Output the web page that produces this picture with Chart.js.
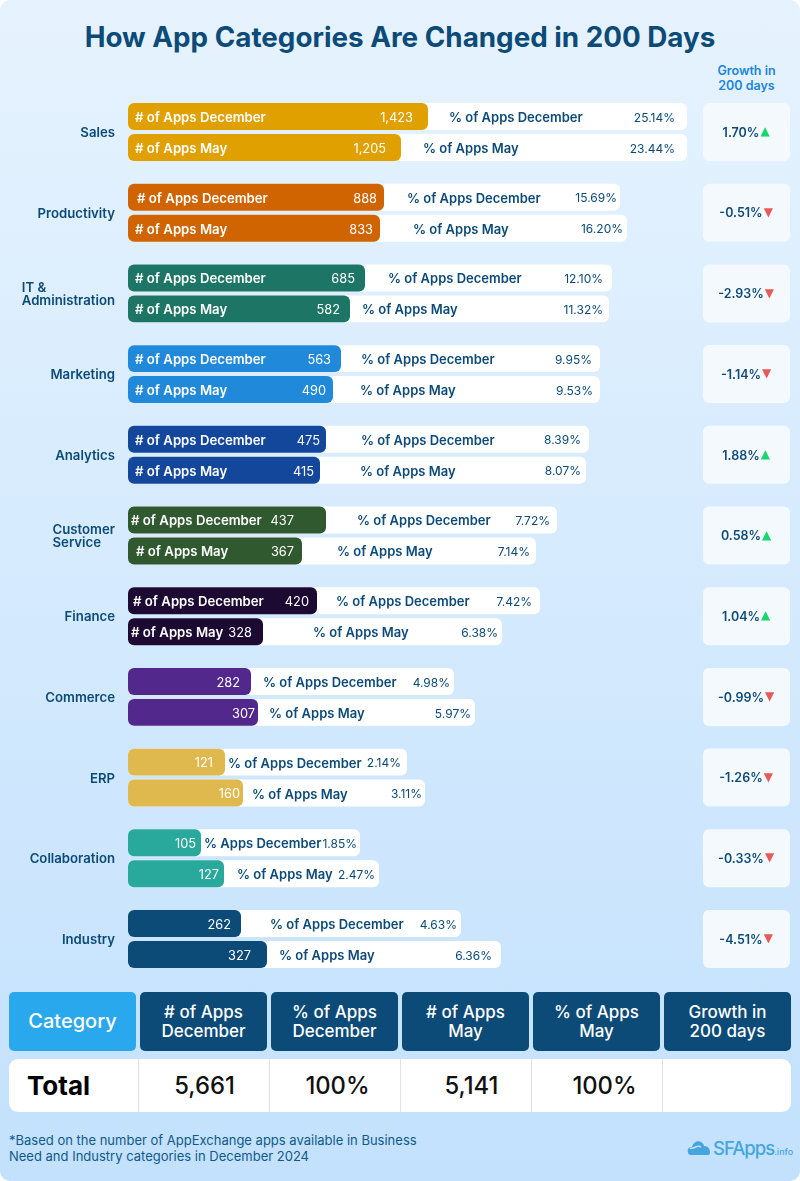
<!DOCTYPE html>
<html>
<head>
<meta charset="utf-8">
<script src="https://cdn.jsdelivr.net/npm/chart.js@4"></script>
<style>
html, body { margin: 0; padding: 0; background: #fff; }
#page { position: relative; width: 800px; height: 1181px; overflow: hidden; border-radius: 10px;
    background: linear-gradient(180deg, #e6f3fe 0%, #c3e1fd 100%); font-family: Inter, sans-serif; color: #0c4a78; }
#page div { position: absolute; box-sizing: border-box; }
#title { left: 0; width: 800px; top: 19px; text-align: center; font-size: 27.8px; font-weight: 700; line-height: 36px; }
#growthhead { left: 703px; width: 87px; top: 63px; text-align: center; font-size: 12.5px; font-weight: 600; line-height: 15px; color: #1a85dc; }
canvas { position: absolute; left: 0; top: 0; }
.head { display: flex; align-items: center; justify-content: center; text-align: center; top: 992px; height: 59px; width: 127px;
    background: #0c4a78; color: #fff; border-radius: 5px; font-size: 17px; font-weight: 500; line-height: 19px; }
#totalrow { left: 9px; top: 1059px; width: 782px; height: 53px; background: #fff; border-radius: 9px; }
.cell { display: flex; align-items: center; justify-content: center; top: 1059px; height: 53px; width: 131px; color: #111; font-size: 23.8px; font-weight: 500; }
.sep { top: 1059px; width: 1px; height: 53px; background: #dfe3e6; }
#note { left: 9px; top: 1132px; font-size: 13px; line-height: 16px; color: #0f5a8a; white-space: nowrap; }
#logo { left: 713px; top: 1137px; font-size: 18.5px; font-weight: 500; color: #45a6de; letter-spacing: -1px; white-space: nowrap; }
#logo span { font-size: 9px; letter-spacing: 0; }
#cloud { left: 687px; top: 1136px; width: 24px; height: 20px; }
</style>
</head>
<body>
<div id="page">
    <div id="title">How App Categories Are Changed in 200 Days</div>
    <div id="growthhead">Growth in<br>200 days</div>
    <canvas id="chart" width="800" height="985"></canvas>
    <div id="note">*Based on the number of AppExchange apps available in Business<br>Need and Industry categories in December 2024</div>
    <div id="cloud"><svg width="24" height="20" viewBox="0 0 24 20"><path d="M1 16c-1-3 1-5 4-5 1-4 5-7 9-5 2 1 3 3 3 4 4 0 6 3 6 6 0 1 0 3-2 3H4c-2 0-3-1-3-3z" fill="#45a6de"/><path d="M3 12c4 2 7-4 11-1" stroke="#c3e1fd" stroke-width="1.5" fill="none"/></svg></div>
    <div id="logo">SFApps<span>.info</span></div>
</div>
<script>
const categories = ['Sales', 'Productivity', ['IT &', 'Administration'], 'Marketing', 'Analytics', ['Customer', 'Service'], 'Finance', 'Commerce', 'ERP', 'Collaboration', 'Industry'];
const appsDecember = [1423, 888, 685, 563, 475, 437, 420, 282, 121, 105, 262];
const appsMay = [1205, 833, 582, 490, 415, 367, 328, 307, 160, 127, 327];
const pctDecember = [25.14, 15.69, 12.10, 9.95, 8.39, 7.72, 7.42, 4.98, 2.14, 1.85, 4.63];
const pctMay = [23.44, 16.20, 11.32, 9.53, 8.07, 7.14, 6.38, 5.97, 3.11, 2.47, 6.36];
const growth = [1.70, -0.51, -2.93, -1.14, 1.88, 0.58, 1.04, -0.99, -1.26, -0.33, -4.51];
const barColors = ['#dfa000', '#cf6400', '#1c7565', '#2189d9', '#12479c', '#30592f', '#1c0a33', '#52288c', '#e0b94e', '#28a99c', '#0c4a78'];

const tableHeads = ['Category', '# of Apps<br>December', '% of Apps<br>December', '# of Apps<br>May', '% of Apps<br>May', 'Growth in<br>200 days'];
const tableTotals = ['Total', '5,661', '100%', '5,141', '100%', ''];
const totalNudge = [0, 1, 3, 6, 8, 0];

// the source bars are not proportional, so both axes are stretched by these tables: [value, px from axis start]
const countKnots = [[0, 0], [105, 73], [121, 97], [127, 96], [160, 115], [262, 113], [282, 123], [307, 130], [327, 139], [328, 135],
    [367, 174], [415, 192], [420, 189], [437, 198], [475, 198], [490, 205], [563, 213], [582, 222], [685, 237], [833, 252], [888, 256], [1205, 273], [1423, 300]];
const pctKnots = [[0, 0], [1.85, 232], [2.14, 279], [2.47, 251], [3.11, 297], [4.63, 333], [4.98, 326], [5.97, 347], [6.36, 373], [6.38, 374],
    [7.14, 408], [7.42, 412], [7.72, 429], [8.07, 458], [8.39, 461], [9.53, 472], [9.95, 472], [11.32, 481], [12.10, 484], [15.69, 492], [16.20, 499], [23.44, 559], [25.14, 559]];

// text nudges per row, december then may
const nameInset = [[7, 7], [9, 7], [7, 7], [7, 7], [7, 7], [3, 8], [5, 3]];
const countPad = [[15, 15], [7, 7], [10, 10], [10, 7], [6, 6], [32, 8], [8, 11], [11, 3], [12, 3], [5, 5], [10, 16]];
const pctLabelGap = [[21, 22], [23, 33], [23, 12], [20, 27], [35, 40], [31, 35], [19, 50], [12, 11], [3, 9], [3, 13], [29, 12]];
const pctPad = [[12, 12], [3, 4], [9, 6], [8, 7], [8, 5], [7, 6], [8, 4], [4, 4], [6, 3], [3, 4], [4, 9]];

const NAVY = '#0c4a78';
const FONT = 'Inter, sans-serif';

const LinearScale = Chart.registry.getScale('linear');
class KnotScale extends LinearScale {
    getPixelForValue(value) {
        const knots = this.options.knots;
        for (let i = 1; i < knots.length; i++) {
            if (value <= knots[i][0]) {
                const a = knots[i - 1], b = knots[i];
                return this.left + a[1] + (value - a[0]) / (b[0] - a[0]) * (b[1] - a[1]);
            }
        }
        return this.left + knots[knots.length - 1][1];
    }
}
KnotScale.id = 'knot';
KnotScale.defaults = LinearScale.defaults;
Chart.register(KnotScale);

function barset(label, values, stack, axis, colors) {
    return {
        label: label, data: values, stack: stack, xAxisID: axis, backgroundColor: colors,
        borderRadius: 6, borderSkipped: false, inflateAmount: 0
    };
}

function pctLabel(i, month) {
    // the source drops the "of" on this one so it fits
    if (categories[i] == 'Collaboration' && month == 'December') return '% Apps December';
    return '% of Apps ' + month;
}

const labelsPlugin = {
    id: 'rowlabels',
    afterDatasetsDraw(chart) {
        const ctx = chart.ctx;
        const yscale = chart.scales.y;
        ctx.save();
        ctx.textBaseline = 'middle';
        categories.forEach((cat, i) => {
            // category name, left aligned block that ends at the axis
            const y = yscale.getPixelForValue(i);
            const lines = [].concat(cat);
            ctx.font = '600 13.2px ' + FONT;
            ctx.fillStyle = NAVY;
            ctx.textAlign = 'left';
            const w = Math.max(...lines.map(l => ctx.measureText(l).width));
            lines.forEach((l, n) => ctx.fillText(l, 115 - w, y + 1 + (n - (lines.length - 1) / 2) * 13.5));

            // two bars of the row
            [['December', appsDecember, pctDecember, 0, 1], ['May', appsMay, pctMay, 2, 3]].forEach((row, r) => {
                const count = row[1][i], pct = row[2][i];
                const cbar = chart.getDatasetMeta(row[3]).data[i];
                const pbar = chart.getDatasetMeta(row[4]).data[i];
                const ty = cbar.y + 1.5;
                if (count >= 328) {
                    ctx.font = '600 13.2px ' + FONT;
                    ctx.fillStyle = '#fff';
                    ctx.textAlign = 'left';
                    ctx.fillText('# of Apps ' + row[0], cbar.base + nameInset[i][r], ty);
                }
                ctx.font = '400 12.8px ' + FONT;
                ctx.fillStyle = '#fff';
                ctx.textAlign = 'right';
                ctx.fillText(count.toLocaleString('en-US'), cbar.x - countPad[i][r], ty);

                ctx.font = '600 13px ' + FONT;
                ctx.fillStyle = NAVY;
                ctx.textAlign = 'left';
                ctx.fillText(pctLabel(i, row[0]), cbar.x + pctLabelGap[i][r], ty);
                ctx.font = '400 12px ' + FONT;
                ctx.textAlign = 'right';
                ctx.fillText(pct.toFixed(2) + '%', pbar.x - pctPad[i][r], ty);
            });

            // growth card
            ctx.fillStyle = '#f4f9fe';
            ctx.beginPath();
            ctx.roundRect(703, y - 29, 87, 58, 6);
            ctx.fill();
            const gtext = growth[i].toFixed(2) + '%';
            ctx.font = '600 12.5px ' + FONT;
            const gw = ctx.measureText(gtext).width;
            ctx.fillStyle = NAVY;
            ctx.textAlign = 'left';
            ctx.fillText(gtext, 741 - gw / 2, y + 1);
            ctx.font = '12px "DejaVu Sans"';
            ctx.fillStyle = growth[i] < 0 ? '#e85a5a' : '#16d86c';
            ctx.fillText(growth[i] < 0 ? '▼' : '▲', 741 + gw / 2 + 1, y);
        });
        ctx.restore();
    }
};

new Chart(document.getElementById('chart'), {
    type: 'bar',
    data: {
        labels: categories,
        datasets: [
            barset('# of Apps December', appsDecember, 'dec', 'xcount', barColors),
            barset('% of Apps December', pctDecember, 'dec', 'xpct', '#fff'),
            barset('# of Apps May', appsMay, 'may', 'xcount', barColors),
            barset('% of Apps May', pctMay, 'may', 'xpct', '#fff')
        ]
    },
    options: {
        indexAxis: 'y',
        responsive: false,
        animation: false,
        devicePixelRatio: 1,
        categoryPercentage: 0.768,
        barPercentage: 0.87,
        layout: { padding: { left: 128, right: 100, top: 91.65, bottom: 5.65 } },
        scales: {
            y: { stacked: true, display: false },
            xcount: { type: 'knot', axis: 'x', stacked: false, display: false, min: 0, max: 1423, knots: countKnots },
            xpct: { type: 'knot', axis: 'x', stacked: false, display: false, min: 0, max: 25.14, knots: pctKnots }
        },
        plugins: { legend: { display: false }, tooltip: { enabled: false } }
    },
    plugins: [labelsPlugin]
});

// summary table under the chart
const page = document.getElementById('page');
const totalrow = document.createElement('div');
totalrow.id = 'totalrow';
page.appendChild(totalrow);
tableHeads.forEach((h, i) => {
    const x = 9 + i * 131;
    const head = document.createElement('div');
    head.className = 'head';
    head.innerHTML = h;
    head.style.left = x + 'px';
    if (i == 0) {
        head.style.background = '#29a8ee';
        head.style.fontSize = '20px';
    }
    page.appendChild(head);

    const cell = document.createElement('div');
    cell.className = 'cell';
    cell.textContent = tableTotals[i];
    cell.style.left = (x - 2 + totalNudge[i]) + 'px';
    if (i == 0) {
        cell.style.left = '27px';
        cell.style.justifyContent = 'flex-start';
        cell.style.fontSize = '26px';
        cell.style.fontWeight = '700';
        cell.style.color = '#000';
    } else {
        const sep = document.createElement('div');
        sep.className = 'sep';
        sep.style.left = (7 + i * 131) + 'px';
        page.appendChild(sep);
    }
    page.appendChild(cell);
});
</script>
</body>
</html>
